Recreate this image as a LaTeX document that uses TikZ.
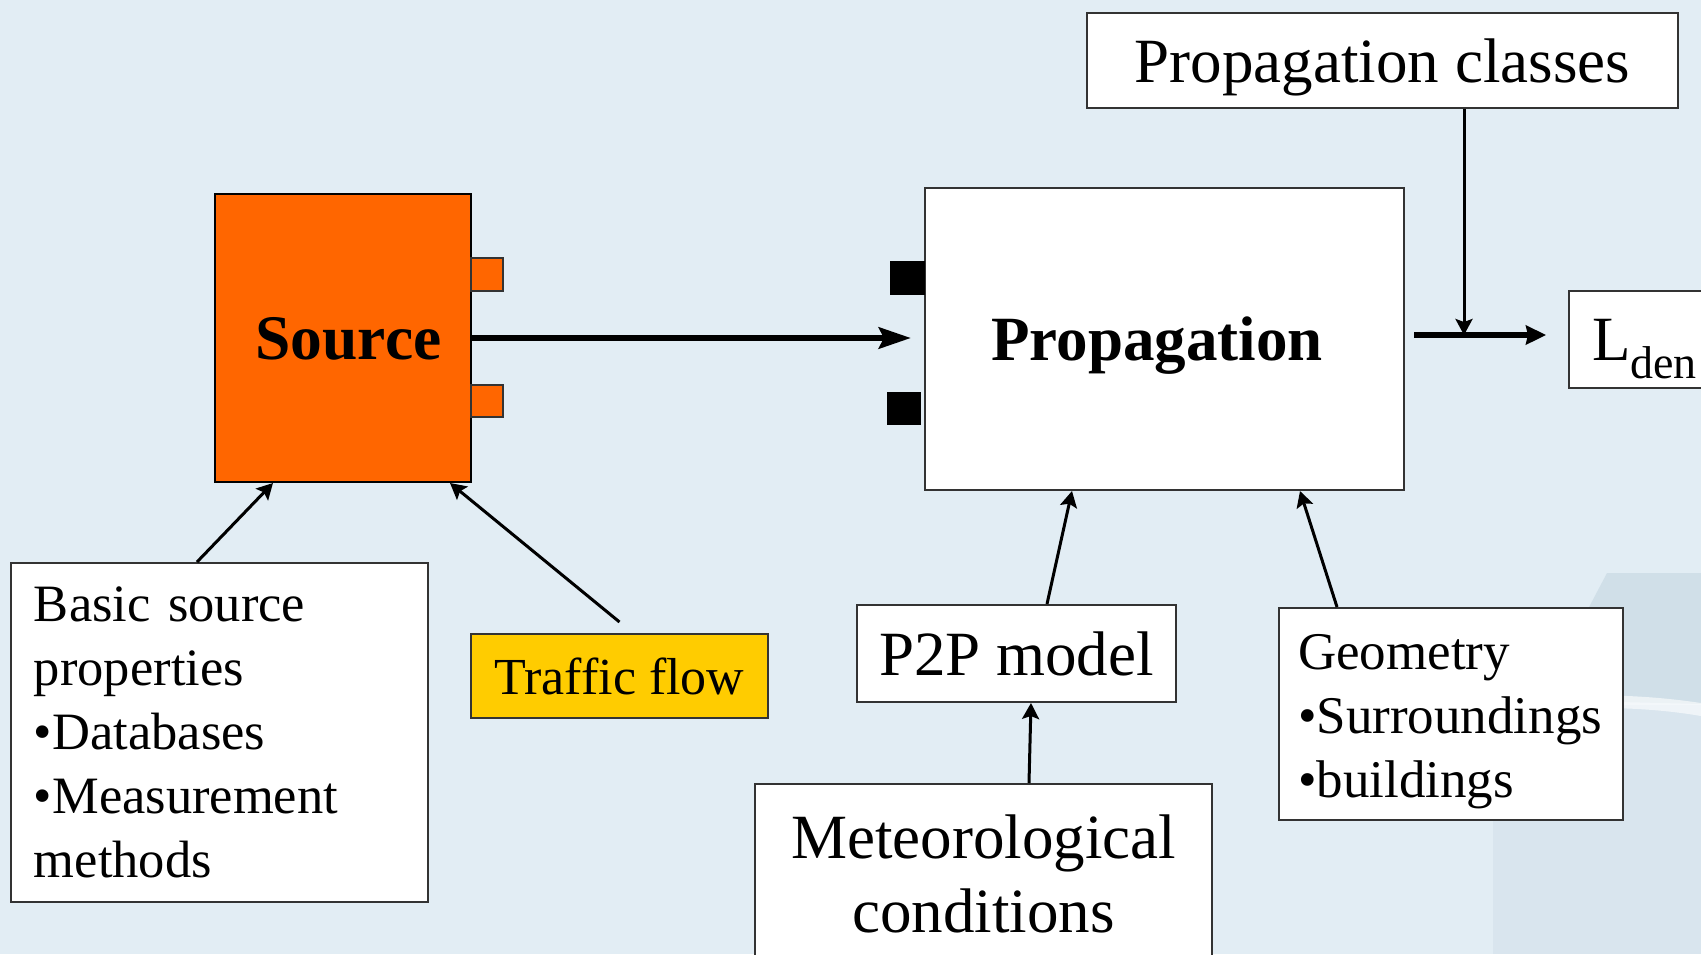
\documentclass[tikz,border=0pt]{standalone}
\usepackage{fontspec}
\setmainfont{Liberation Serif}
\usetikzlibrary{arrows.meta, calc}
\definecolor{bg}{HTML}{E2EDF4}
\definecolor{bgm}{HTML}{D9E5EE}
\definecolor{bgd}{HTML}{D0DFE8}
\definecolor{orng}{HTML}{FF6600}
\definecolor{yel}{HTML}{FFCC00}
\definecolor{edge}{HTML}{333333}

\begin{document}
\begin{tikzpicture}[x=1pt, y=-1pt,
    box/.style={draw=edge, line width=2pt, fill=white, inner sep=0pt},
    tab/.style={draw=edge, line width=1.5pt, fill=orng},
    bigarrow/.style={line width=6.5pt, -{Stealth[length=32pt, width=21pt, inset=5pt]}},
    outarrow/.style={line width=6.5pt, -{Stealth[length=20pt, width=19pt, inset=2pt]}},
    arr/.style={line width=3pt, -{Stealth[length=16pt, width=17pt, inset=3pt]}}
  ]
  % background
  \useasboundingbox (0,0) rectangle (1701,954);
  \clip (0,0) rectangle (1701,954);
  \fill[bg] (0,0) rectangle (1701,954);
  \fill[bgm] (1493,954) -- (1493,705) -- (1701,705) -- (1701,954) -- cycle;
  \fill[bgd] (1540,700) -- (1607,573) -- (1701,573) -- (1701,704) -- cycle;
  \fill[white, opacity=0.6] (1560,696) .. controls (1620,694) and (1660,697) .. (1701,703)
    -- (1701,716) .. controls (1660,709) and (1620,707) .. (1560,708) -- cycle;

  % main blocks
  \node[box, minimum width=591pt, minimum height=95pt, text depth=0pt,
    font=\fontsize{63}{76}\selectfont] (classes) at (1382.5,60.5) {Propagation classes};
  \node[draw=black, line width=2pt, fill=orng, minimum width=256pt, minimum height=288pt,
    inner sep=0pt, text depth=0pt, font=\fontsize{63.5}{76}\selectfont\bfseries] (source) at (343,338)
    {\hspace*{11pt}Source};
  \draw[tab] (471,258) rectangle (503,291);
  \draw[tab] (471,385) rectangle (503,417);
  \node[box, minimum width=479pt, minimum height=302pt, text depth=0pt,
    font=\fontsize{63}{76}\selectfont\bfseries] (prop) at (1164.5,339) {Propagation\hspace*{15pt}};
  \fill (890,261) rectangle (925,295);
  \fill (887,392) rectangle (921,425);
  \node[box, anchor=west, inner xsep=23pt, minimum height=97pt, text depth=0pt,
    font=\fontsize{63}{76}\selectfont] (Lden) at (1568,339.5)
    {L\raisebox{-18pt}{\fontsize{46}{55}\selectfont den}};

  % inputs
  \node[box, anchor=north west, text width=371pt, inner xsep=23pt, minimum height=339pt,
    align=left, font=\fontsize{52.5}{64}\selectfont] (basic) at (10,562)
    {Basic source\\properties\\•Databases\\•Measurement\\methods};
  \node[box, fill=yel, minimum width=297pt, minimum height=84pt, text depth=0pt,
    font=\fontsize{52}{63}\selectfont] (traffic) at (619.5,676) {Traffic flow};
  \node[box, minimum width=319pt, minimum height=97pt, text depth=0pt,
    font=\fontsize{63}{76}\selectfont] (p2p) at (1016.5,653.5) {P2P model};
  \node[box, anchor=north west, minimum width=457pt, minimum height=180pt,
    align=center, font=\fontsize{63}{74}\selectfont] (meteo) at (754,783)
    {Meteorological\\conditions};
  \node[box, anchor=north west, text width=306pt, inner xsep=19pt, minimum height=212pt,
    align=left, font=\fontsize{53}{64}\selectfont] (geom) at (1278,607)
    {\rule{0pt}{50pt}Geometry\\•Surroundings\\•buildings};

  % connectors
  \coordinate (join) at (1464,335);
  \draw[bigarrow, shorten >=13pt] (source.east) -- (source.east -| prop.west);
  \draw[outarrow, shorten <=9pt, shorten >=22pt] (prop.east |- join) -- (Lden.west |- join);
  \draw[arr] (classes.south -| join) -- (join);
  \draw[arr] ([xshift=-22.5pt]basic.north) -- ([xshift=-70pt]source.south);
  \draw[arr] ([yshift=11pt]traffic.north) -- ([xshift=-22pt]source.south east);
  \draw[arr] ([xshift=30.5pt]p2p.north) -- ([xshift=-92.5pt]prop.south);
  \draw[arr] ([xshift=45.5pt]meteo.north) -- ([xshift=14.5pt]p2p.south);
  \draw[arr] ([xshift=-114pt]geom.north) -- ([xshift=135.5pt]prop.south);
\end{tikzpicture}
\end{document}
